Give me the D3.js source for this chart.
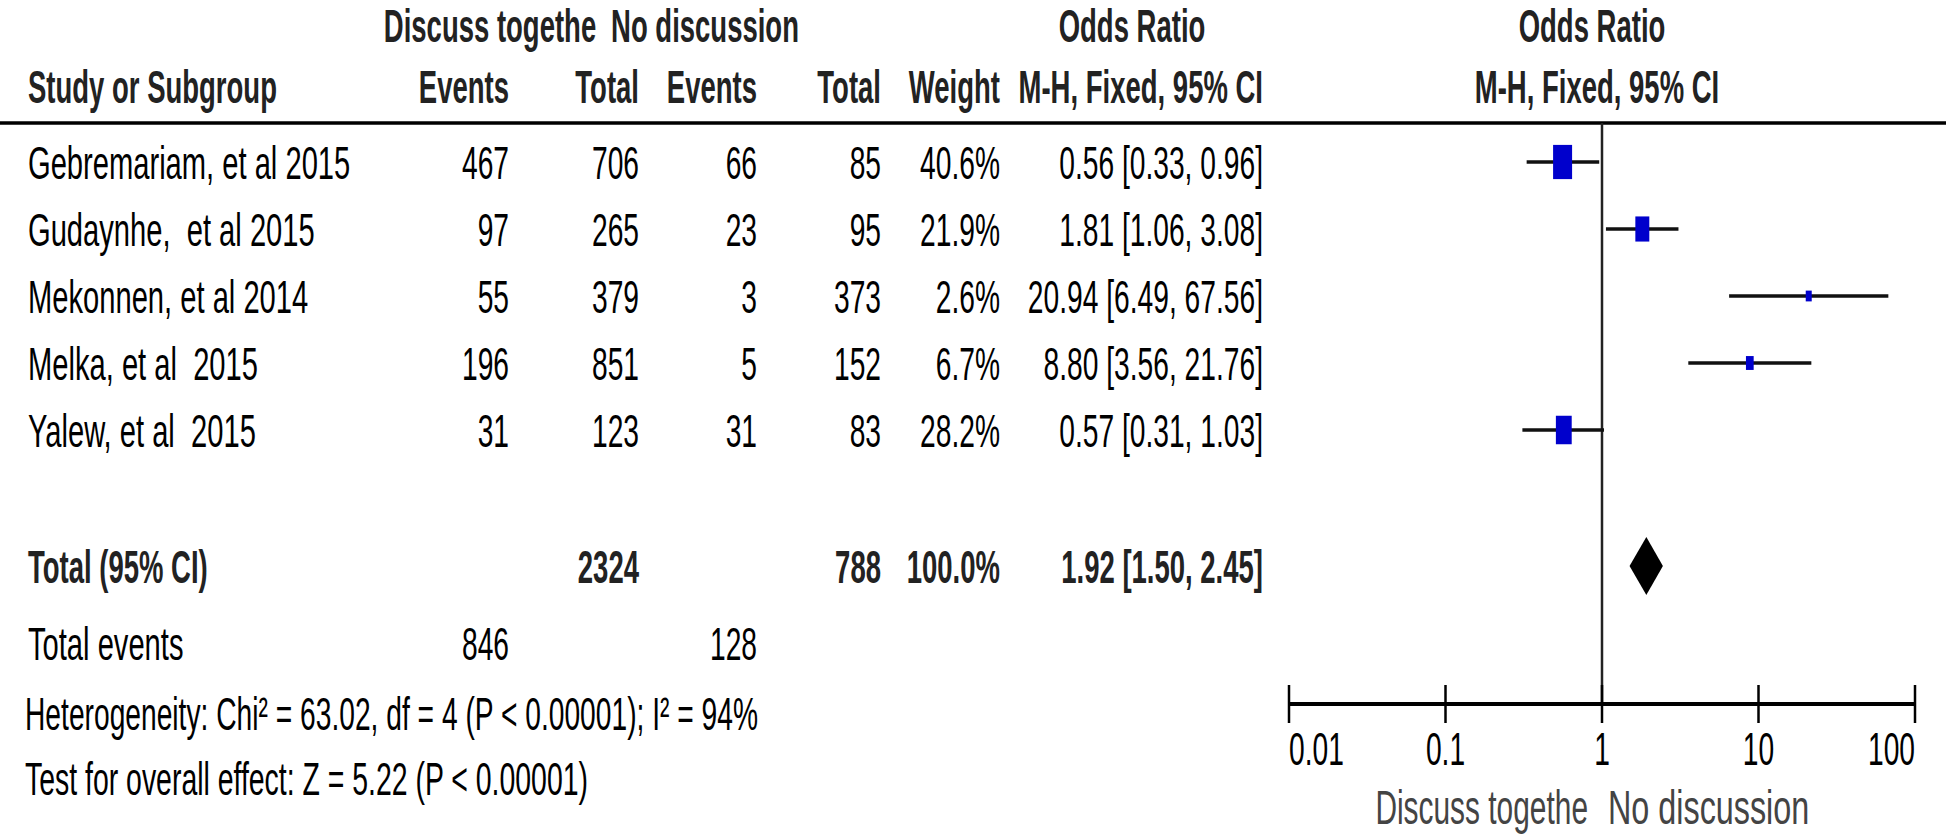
<!DOCTYPE html>
<html>
<head>
<meta charset="utf-8">
<script src="https://cdn.jsdelivr.net/npm/d3@7"></script>
<style>
  html, body { margin: 0; padding: 0; background: #fff; }
  svg text { font-family: "Liberation Sans", Arial, sans-serif; white-space: pre; }
</style>
</head>
<body>
<div id="chart"></div>
<script>
// Forest plot data
const studies = ['Gebremariam, et al 2015', 'Gudaynhe,  et al 2015', 'Mekonnen, et al 2014', 'Melka, et al  2015', 'Yalew, et al  2015'];
const eventsA = [467, 97, 55, 196, 31];
const totalA = [706, 265, 379, 851, 123];
const eventsB = [66, 23, 3, 5, 31];
const totalB = [85, 95, 373, 152, 83];
const weights = [40.6, 21.9, 2.6, 6.7, 28.2];
const oddsRatio = [0.56, 1.81, 20.94, 8.80, 0.57];
const ciLow = [0.33, 1.06, 6.49, 3.56, 0.31];
const ciHigh = [0.96, 3.08, 67.56, 21.76, 1.03];

const pooled = [1.92, 1.50, 2.45];   // OR, low, high
const totals = [2324, 788];
const totalEvents = [846, 128];
const axisTicks = [0.01, 0.1, 1, 10, 100];

const groupA = 'Discuss togethe';
const groupB = 'No discussion';
const heterogeneity = 'Heterogeneity: Chi² = 63.02, df = 4 (P < 0.00001); I² = 94%';
const overallTest = 'Test for overall effect: Z = 5.22 (P < 0.00001)';

const W = 1946, H = 835;
const FS = 47;      // font size
const SX = 0.6;     // horizontal squeeze of the text

const svg = d3.select('#chart').append('svg')
  .attr('width', W)
  .attr('height', H);

// text helper, squeezed horizontally
function txt(x, y, s, opts = {}) {
  const sx = opts.sx || (opts.bold ? 0.585 : SX);
  return svg.append('text')
    .attr('xml:space', 'preserve')
    .attr('transform', `translate(${x},${y}) scale(${sx},1)`)
    .attr('text-anchor', opts.anchor || 'end')
    .attr('font-size', opts.size || FS)
    .attr('font-weight', opts.bold ? 'bold' : 'normal')
    .attr('fill', opts.fill || '#000')
    .text(s);
}

const fmt2 = d3.format('.2f');
const ciText = (o, l, h) => `${fmt2(o)} [${fmt2(l)}, ${fmt2(h)}]`;

// column right edges
const col = { name: 28, evA: 509, totA: 639, evB: 757, totB: 881, weight: 1000, ci: 1263 };

// scales
const x = d3.scaleLog().domain([0.01, 100]).range([1289, 1915]);
const y = d3.scaleLinear().domain([0, studies.length - 1]).range([162, 430]);
const boxW = d3.scaleSqrt().domain([0, d3.max(weights)]).range([0, 19]);

const yTotal = 566, yEvents = 643, yHet = 713, yTest = 778;
const yHeadLine = 123, yAxis = 704;
const base = 17; // baseline offset from row centre

// header
const hd = { bold: true, fill: '#222' };
txt(490, 42, groupA, { ...hd, anchor: 'middle' });
txt(705, 42, groupB, { ...hd, anchor: 'middle' });
txt(1132, 42, 'Odds Ratio', { ...hd, anchor: 'middle' });
txt(x(1) - 10, 42, 'Odds Ratio', { ...hd, anchor: 'middle' });
txt(col.name, 103, 'Study or Subgroup', { ...hd, anchor: 'start' });
txt(col.evA, 103, 'Events', hd);
txt(col.totA, 103, 'Total', hd);
txt(col.evB, 103, 'Events', hd);
txt(col.totB, 103, 'Total', hd);
txt(col.weight, 103, 'Weight', hd);
txt(col.ci, 103, 'M-H, Fixed, 95% CI', hd);
txt(x(1) - 5, 103, 'M-H, Fixed, 95% CI', { ...hd, anchor: 'middle' });

svg.append('line')
  .attr('x1', 0).attr('x2', W)
  .attr('y1', yHeadLine).attr('y2', yHeadLine)
  .attr('stroke', '#000').attr('stroke-width', 3.5);

// study rows
studies.forEach((s, i) => {
  const cy = y(i) + base;
  txt(col.name, cy, s, { anchor: 'start', sx: 0.62 });
  txt(col.evA, cy, eventsA[i]);
  txt(col.totA, cy, totalA[i]);
  txt(col.evB, cy, eventsB[i]);
  txt(col.totB, cy, totalB[i]);
  txt(col.weight, cy, weights[i].toFixed(1) + '%');
  txt(col.ci, cy, ciText(oddsRatio[i], ciLow[i], ciHigh[i]));
});

// total row
txt(col.name, yTotal + base, 'Total (95% CI)', { ...hd, anchor: 'start' });
txt(col.totA, yTotal + base, totals[0], hd);
txt(col.totB, yTotal + base, totals[1], hd);
txt(col.weight, yTotal + base, d3.sum(weights).toFixed(1) + '%', hd);
txt(col.ci, yTotal + base, ciText(...pooled), hd);

txt(col.name, yEvents + base, 'Total events', { anchor: 'start', sx: 0.62 });
txt(col.evA, yEvents + base, totalEvents[0]);
txt(col.evB, yEvents + base, totalEvents[1]);
txt(col.name - 3, yHet + base, heterogeneity, { anchor: 'start' });
txt(col.name - 3, yTest + base, overallTest, { anchor: 'start', sx: 0.605 });

// plot: line of no effect
svg.append('line')
  .attr('x1', x(1)).attr('x2', x(1))
  .attr('y1', yHeadLine).attr('y2', yAxis)
  .attr('stroke', '#222').attr('stroke-width', 2.5);

// confidence intervals
svg.selectAll('.ci')
  .data(studies)
  .enter().append('line')
  .attr('class', 'ci')
  .attr('x1', (d, i) => x(ciLow[i]))
  .attr('x2', (d, i) => x(ciHigh[i]))
  .attr('y1', (d, i) => y(i))
  .attr('y2', (d, i) => y(i))
  .attr('stroke', '#111')
  .attr('stroke-width', 3.5);

// weight boxes
svg.selectAll('.box')
  .data(studies)
  .enter().append('rect')
  .attr('class', 'box')
  .each(function (d, i) {
    const w = Math.max(6, boxW(weights[i]));
    const h = w * 1.8;
    d3.select(this)
      .attr('x', x(oddsRatio[i]) - w / 2)
      .attr('y', y(i) - h / 2)
      .attr('width', w)
      .attr('height', h);
  })
  .attr('fill', '#0000cc');

// pooled diamond
const dh = 29;
svg.append('path')
  .attr('d', `M${x(pooled[1])},${yTotal} L${x(pooled[0])},${yTotal - dh} L${x(pooled[2])},${yTotal} L${x(pooled[0])},${yTotal + dh} Z`)
  .attr('fill', '#000');

// axis
const axis = svg.append('g').attr('transform', `translate(0,${yAxis})`);
axis.append('line')
  .attr('x1', x(0.01)).attr('x2', x(100))
  .attr('stroke', '#000').attr('stroke-width', 4);
axis.selectAll('.tick')
  .data(axisTicks)
  .enter().append('line')
  .attr('class', 'tick')
  .attr('x1', d => x(d)).attr('x2', d => x(d))
  .attr('y1', -19).attr('y2', 19)
  .attr('stroke', '#000').attr('stroke-width', 2.5);

axisTicks.forEach((t, i) => {
  const anchor = i === 0 ? 'start' : (i === axisTicks.length - 1 ? 'end' : 'middle');
  txt(x(t), 765, String(t), { anchor });
});

txt(x(1) - 14, 824, groupA, { anchor: 'end', fill: '#444', size: 49, sx: 0.61 });
txt(x(1) + 6, 824, groupB, { anchor: 'start', fill: '#444', size: 49, sx: 0.66 });
</script>
</body>
</html>
